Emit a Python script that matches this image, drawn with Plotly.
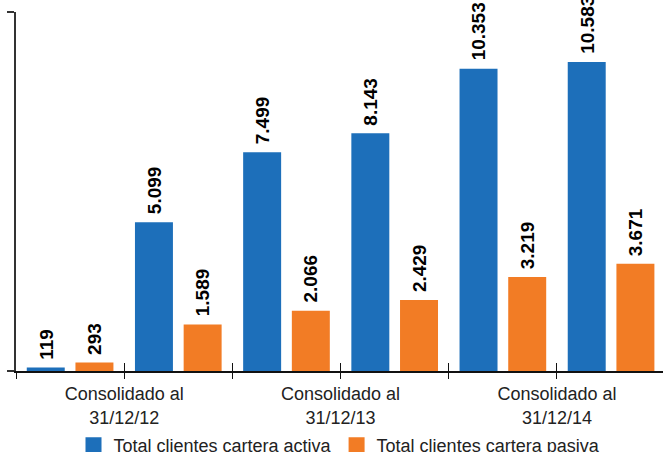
import plotly.graph_objects as go

# Data
periods = ["Consolidado al<br>31/12/12", "Consolidado al<br>31/12/13", "Consolidado al<br>31/12/14"]
activa = [119, 5099, 7499, 8143, 10353, 10583]
pasiva = [293, 1589, 2066, 2429, 3219, 3671]
activa_labels = ["119", "5.099", "7.499", "8.143", "10.353", "10.583"]
pasiva_labels = ["293", "1.589", "2.066", "2.429", "3.219", "3.671"]
series_names = ["Total clientes cartera activa", "Total clientes cartera pasiva"]

BLUE = "#1d6fba"
ORANGE = "#f27c25"
FONT = "Liberation Sans, Arial, sans-serif"
BARGAP = 0.1
BARGROUPGAP = 0.22
YMAX = 12300

xs = list(range(len(activa)))

fig = go.Figure()
fig.add_trace(go.Bar(x=xs, y=activa, marker_color=BLUE, marker_line_width=0,
                     name=series_names[0], showlegend=False))
fig.add_trace(go.Bar(x=xs, y=pasiva, marker_color=ORANGE, marker_line_width=0,
                     name=series_names[1], showlegend=False))

# legend entries
for nm, col in zip(series_names, [BLUE, ORANGE]):
    fig.add_trace(go.Scatter(x=[None], y=[None], mode="markers", name=nm,
                             marker=dict(symbol="square", size=16, color=col)))

# invisible trace for overlay axis (crossing ticks)
fig.add_trace(go.Scatter(x=[xs[0]], y=[0], xaxis="x2", mode="markers",
                         marker=dict(opacity=0), showlegend=False, hoverinfo="skip"))

# value labels
off = (1 - BARGAP) / 4
annotations = []
for vals, labs, sign in [(activa, activa_labels, -1), (pasiva, pasiva_labels, 1)]:
    for i, (v, t) in enumerate(zip(vals, labs)):
        annotations.append(dict(x=i + sign * off, y=v, xref="x", yref="y", text=t,
                                showarrow=False, textangle=-90, yanchor="bottom",
                                xanchor="center", yshift=6,
                                font=dict(family=FONT, size=19, color="#000000",
                                          weight="bold")))

tickvals = [i - 0.5 for i in xs]
ticktext = []
for i in xs:
    ticktext.append(periods[(i - 1) // 2] if i % 2 == 1 else "")

fig.update_layout(
    width=663, height=452,
    margin=dict(l=16, r=0, t=12, b=81, autoexpand=False),
    paper_bgcolor="white", plot_bgcolor="white",
    barmode="group", bargap=BARGAP, bargroupgap=BARGROUPGAP,
    font=dict(family=FONT, size=18, color="#222222"),
    showlegend=True,
    legend=dict(orientation="h", x=0.5, xanchor="center", yref="container",
                y=0.055, yanchor="top", font=dict(size=18, color="#222222"),
                itemclick=False, bgcolor="rgba(0,0,0,0)"),
    annotations=annotations,
    xaxis=dict(range=[-0.5, 5.48], tickmode="array", tickvals=tickvals,
               ticktext=ticktext, ticks="outside", ticklen=6, tickwidth=1,
               tickcolor="#111111", showline=True, linecolor="#111111",
               linewidth=1.5, showgrid=False, zeroline=False,
               tickfont=dict(size=18, color="#222222")),
    xaxis2=dict(overlaying="x", matches="x", anchor="y", side="bottom",
                tickmode="array", tickvals=tickvals, ticks="inside", ticklen=8,
                tickwidth=1, tickcolor="#111111", showticklabels=False,
                showline=False, showgrid=False, zeroline=False),
    yaxis=dict(range=[0, YMAX], tickmode="array", tickvals=[0, YMAX],
               ticks="outside", ticklen=7, tickwidth=1.5, tickcolor="#333333",
               showticklabels=False, showline=True, linecolor="#333333",
               linewidth=2, showgrid=False, zeroline=False),
)

fig.write_html("out.html")
